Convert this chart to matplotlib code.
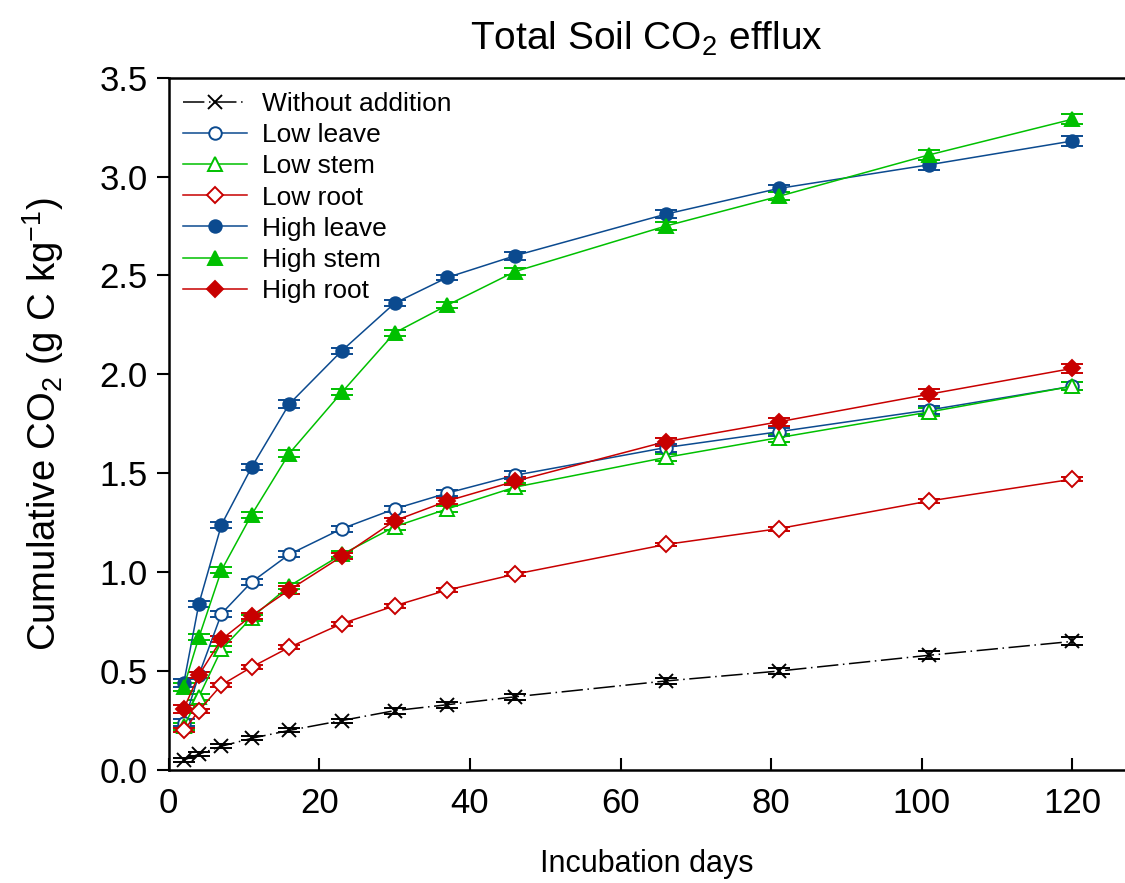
import numpy as np
import matplotlib.pyplot as plt

plt.rcParams['font.family'] = ['Liberation Sans', 'DejaVu Sans']
plt.rcParams['mathtext.default'] = 'regular'

days = [2, 4, 7, 11, 16, 23, 30, 37, 46, 66, 81, 101, 120]

without = [0.05, 0.08, 0.12, 0.16, 0.20, 0.25, 0.30, 0.33, 0.37, 0.45, 0.50, 0.58, 0.65]
low_leave = [0.24, 0.48, 0.79, 0.95, 1.09, 1.22, 1.32, 1.40, 1.49, 1.63, 1.71, 1.82, 1.94]
low_stem = [0.22, 0.37, 0.61, 0.77, 0.93, 1.09, 1.23, 1.32, 1.43, 1.58, 1.68, 1.81, 1.94]
low_root = [0.20, 0.30, 0.43, 0.52, 0.62, 0.74, 0.83, 0.91, 0.99, 1.14, 1.22, 1.36, 1.47]
high_leave = [0.44, 0.84, 1.24, 1.53, 1.85, 2.12, 2.36, 2.49, 2.60, 2.81, 2.94, 3.06, 3.18]
high_stem = [0.42, 0.67, 1.01, 1.29, 1.60, 1.91, 2.21, 2.35, 2.52, 2.75, 2.90, 3.11, 3.29]
high_root = [0.31, 0.48, 0.66, 0.78, 0.91, 1.08, 1.26, 1.36, 1.46, 1.66, 1.76, 1.90, 2.03]

err_without = [0.01, 0.01, 0.01, 0.01, 0.01, 0.01, 0.015, 0.015, 0.015, 0.015, 0.015, 0.02, 0.02]
err_low = [0.02, 0.015, 0.015, 0.015, 0.015, 0.015, 0.015, 0.015, 0.02, 0.02, 0.02, 0.02, 0.02]
err_lowroot = [0.01, 0.01, 0.01, 0.01, 0.01, 0.01, 0.01, 0.01, 0.01, 0.01, 0.01, 0.01, 0.01]
err_high = [0.02, 0.015, 0.015, 0.015, 0.02, 0.015, 0.015, 0.015, 0.02, 0.02, 0.02, 0.025, 0.025]

blue = '#0b4a8f'
green = '#00c000'
red = '#c80000'

series = [
    ('Without addition', without, err_without, 'black', 'x', 'black', (0, (14, 3, 1, 3))),
    ('Low leave', low_leave, err_low, blue, 'o', 'white', '-'),
    ('Low stem', low_stem, err_low, green, '^', 'white', '-'),
    ('Low root', low_root, err_lowroot, red, 'D', 'white', '-'),
    ('High leave', high_leave, err_high, blue, 'o', blue, '-'),
    ('High stem', high_stem, err_high, green, '^', green, '-'),
    ('High root', high_root, err_high, red, 'D', red, '-'),
]

fig = plt.figure(figsize=(11.25, 8.83), dpi=100)
ax = fig.add_axes([0.150, 0.128, 0.85, 0.784])

for name, y, e, c, m, fc, ls in series:
    ms = {'x': 10, 'o': 9, '^': 10, 'D': 8.5}[m]
    ax.errorbar(days, y, yerr=e, color=c, marker=m, markerfacecolor=fc,
                markeredgecolor=c, markeredgewidth=1.4, markersize=ms,
                linestyle=ls, linewidth=1.1,
                elinewidth=1.2, capsize=8, capthick=2, label=name)

ax.set_xlim(0, 127)
ax.set_ylim(0, 3.5)
ax.set_xticks(np.arange(0, 121, 20))
ax.set_yticks(np.arange(0, 3.51, 0.5))
ax.set_yticklabels(['%.1f' % v for v in np.arange(0, 3.51, 0.5)])
ax.tick_params(axis='x', direction='in', length=9, width=1.5, labelsize=25, pad=12)
ax.tick_params(axis='y', direction='out', length=9, width=1.5, labelsize=25, pad=6)
ax.spines['right'].set_visible(False)
for s in ['left', 'bottom', 'top']:
    ax.spines[s].set_linewidth(1.8)

ax.set_xlabel('Incubation days', fontsize=22, labelpad=21)
ax.set_ylabel('Cumulative CO$_2$ (g C kg$^{-1}$)', fontsize=27.5, labelpad=24)
ax.set_title('Total Soil CO$_2$ efflux', fontsize=28, pad=20)

handles, labels = ax.get_legend_handles_labels()
handles = [h[0] for h in handles]
ax.legend(handles, labels, loc='upper left', frameon=False, fontsize=19,
          handlelength=2.4, handletextpad=0.6, labelspacing=0.27,
          borderaxespad=0.15, bbox_to_anchor=(0.0, 1.0))

fig.savefig('out.png', dpi=100)
